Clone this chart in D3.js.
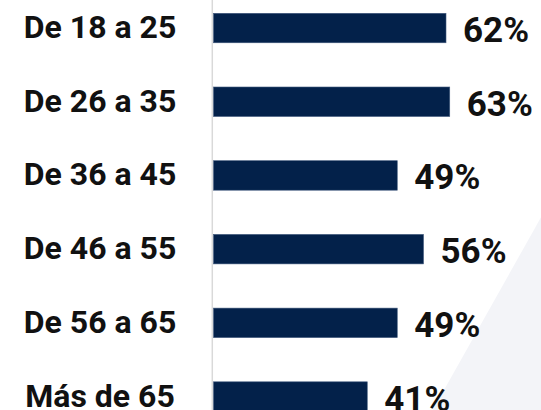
<!DOCTYPE html>
<html lang="es">
    <head>
        <meta charset="UTF-8" />
        <title>Edad</title>
        <style>
            body { margin: 0; background: #fff; }
        </style>
    </head>
    <body>
        <div id="main"></div>
        <script src="https://cdn.jsdelivr.net/npm/d3@7/dist/d3.min.js"></script>
        <script>
            const categories = ["De 18 a 25", "De 26 a 35", "De 36 a 45", "De 46 a 55", "De 56 a 65", "Más de 65"]
            const values = [62, 63, 49, 56, 49, 41]

            const svgWidth = 541
            const svgHeight = 410
            const fontFamily = "Roboto, 'Open Sans', sans-serif"
            const barColor = "#03214a"

            const svg = d3.select("#main")
                .append("svg")
                .attr("width", svgWidth)
                .attr("height", svgHeight)

            // light diagonal backdrop bottom right
            svg.append("path")
                .attr("d", `M${svgWidth},${svgHeight * 0.53} L${svgWidth * 0.8},${svgHeight} L${svgWidth},${svgHeight} Z`)
                .attr("fill", "#f3f4f8")

            const x = d3.scaleLinear()
                .domain([0, 100])
                .range([213.5, 588.5])

            const y = d3.scaleBand()
                .domain(categories)
                .range([13.3, 411.3])
                .paddingInner(0.6)
                .paddingOuter(0)

            svg.append("line")
                .attr("x1", 212.3)
                .attr("x2", 212.3)
                .attr("y1", 0)
                .attr("y2", svgHeight)
                .attr("stroke", "#d9d9d9")
                .attr("stroke-width", 1.5)

            const rows = svg.selectAll("g.row")
                .data(categories.map((c, i) => ({ c, v: values[i] })))
                .enter()
                .append("g")
                .classed("row", true)

            rows.append("rect")
                .attr("x", x(0))
                .attr("y", (d) => y(d.c))
                .attr("width", (d) => x(d.v) - x(0))
                .attr("height", y.bandwidth())
                .attr("fill", barColor)
                .attr("stroke", "#41597d")
                .attr("stroke-width", 0.6)

            rows.append("text")
                .attr("x", 100)
                .attr("y", (d) => y(d.c) + y.bandwidth() / 2 + 10)
                .attr("text-anchor", "middle")
                .attr("font-size", 32)
                .attr("font-weight", 700)
                .attr("font-family", fontFamily)
                .attr("fill", "#111")
                .text((d) => d.c)

            rows.append("text")
                .attr("x", (d) => x(d.v) + 17)
                .attr("y", (d) => y(d.c) + y.bandwidth() / 2 + 14)
                .attr("text-anchor", "start")
                .attr("font-size", 35)
                .attr("font-weight", 700)
                .attr("font-family", fontFamily)
                .attr("fill", "#111")
                .text((d) => d.v + "%")
        </script>
    </body>
</html>
